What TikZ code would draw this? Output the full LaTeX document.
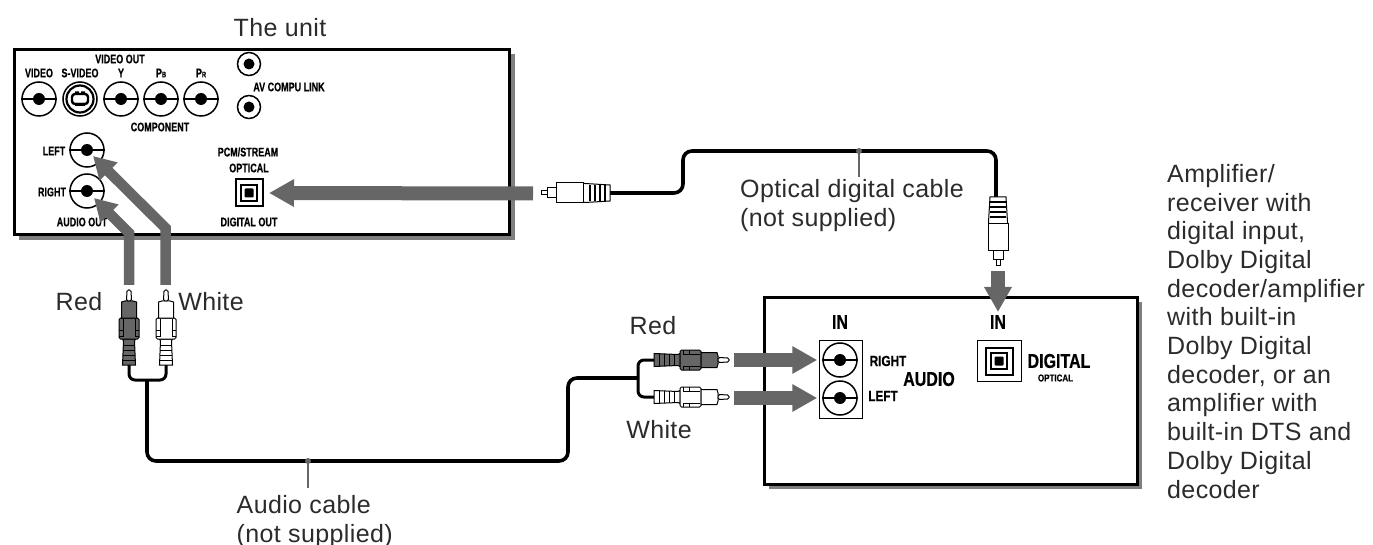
\documentclass[tikz,border=0pt]{standalone}
\usepackage{fontspec}
\setmainfont[LetterSpace=1.5]{Liberation Sans}
\newfontfamily\condf[FakeStretch=0.72,FakeBold=0.5]{Liberation Sans Bold}
\newfontfamily\condw[FakeStretch=0.8,FakeBold=0.5]{Liberation Sans Bold}
\usetikzlibrary{arrows.meta}
\definecolor{ink}{HTML}{2B2B2B}
\definecolor{arrowgrey}{HTML}{666666}
\definecolor{shadowgrey}{HTML}{7F7F7F}
\tikzset{
  panel/.style={draw=black,line width=3pt,fill=white},
  jackc/.style={circle,draw=black,line width=1.5pt,fill=white,inner sep=0pt,minimum size=34pt},
  smalljack/.style={circle,draw=black,line width=1.5pt,fill=white,inner sep=0pt,minimum size=23pt},
  opt/.style={draw=black,line width=2pt,fill=white,inner sep=0pt},
  lab/.style={font=\condf\fontsize{12.5}{14}\selectfont,text=black,inner sep=0pt},
  labm/.style={font=\condw\fontsize{14.7}{16}\selectfont,text=black,inner sep=0pt},
  labs/.style={font=\condw\fontsize{20}{22}\selectfont,text=black,inner sep=0pt},
  labt/.style={font=\condw\fontsize{10}{11}\selectfont,text=black,inner sep=0pt},
  captext/.style={font=\fontsize{25}{28.7}\selectfont,text=ink,align=left,anchor=north west,inner sep=0pt},
  cable/.style={draw=black,line width=3.6pt,rounded corners=9pt},
  tickline/.style={draw=arrowgrey,line width=1.6pt},
  thinline/.style={draw=black,line width=1pt},
  bigarrow/.style={draw=arrowgrey,line width=14pt,line join=miter,-{Triangle[length=25pt,width=26pt]}},
  midarrow/.style={draw=arrowgrey,line width=10.5pt,line join=miter,-{Triangle[length=22pt,width=24pt]}},
}
\newcommand{\mkjack}[3]{\node[jackc] (#1) at (#2,#3) {};
  \draw[line width=1.5pt] (#1.west) -- (#1.east);
  \fill[black] (#1.center) circle (6pt);}
\newcommand{\mksmall}[3]{\node[smalljack] (#1) at (#2,#3) {};
  \fill[black] (#1.center) circle (5.5pt);}
% audio plug, tip towards local +x; #3 angle, #4 fill
\newcommand{\audioplug}[4]{\begin{scope}[shift={(#1,#2)},rotate=#3,thinline,fill=#4]
  \filldraw (0,-6.5) -- (24,-5.5) -- (26,-6.5) -- (26,6.5) -- (24,5.5) -- (0,6.5) -- cycle;
  \foreach \q in {5,10,15,20} \draw (\q,-6) -- (\q,6);
  \filldraw[rounded corners=1.5pt] (26,-10) -- (47,-10) -- (47,10) -- (26,10) -- cycle;
  \draw (29,-10) -- (29,-6) -- (35,-6) -- (35,-10) (29,10) -- (29,6) -- (35,6) -- (35,10) (35,-6)--(46,-6) (35,6)--(46,6);
  \filldraw (47,-7.5) -- (63,-7.5) -- (64,-4) -- (64,4) -- (63,7.5) -- (47,7.5) -- cycle;
  \draw[fill=white,rounded corners=1.5pt] (64,-2.5) -- (75,-2) -- (75,2) -- (64,2.5) -- cycle;
\end{scope}}
% optical plug
\newcommand{\optplug}[3]{\begin{scope}[shift={(#1,#2)},rotate=#3,thinline,fill=white]
  \filldraw (0,-8) -- (25,-9.5) -- (27,-9.5) -- (27,9.5) -- (25,9.5) -- (0,8) -- cycle;
  \foreach \q in {5,10,15,20} \draw[line width=1.2pt] (\q,-8) -- (\q,8);
  \filldraw (27,-10) rectangle (54,10);
  \filldraw (54,-5) rectangle (63,5);
  \filldraw (63,-2) rectangle (69,2);
\end{scope}}
\newcommand{\optport}[3]{\node[opt,minimum size=27pt] (#1) at (#2,#3) {};
  \node[draw=black,line width=1.5pt,fill=white,minimum size=16pt,inner sep=0pt] at (#1) {};
  \fill[black,rounded corners=1pt] ([shift={(-4.5,-4.5)}]#1.center) rectangle ([shift={(4.5,4.5)}]#1.center);}
\begin{document}
\begin{tikzpicture}[x=1pt,y=-1pt]
\useasboundingbox (0,0) rectangle (1373,545);
% ---- unit
\fill[shadowgrey] (19,54) rectangle (515,240);
\node[panel,minimum width=495pt,minimum height=185pt,inner sep=0pt,anchor=north west] (unit) at (13,48) {};
\node[captext,anchor=center] (unitlabel) at (280,28) {The unit};
\node[lab] (vo) at (120,59) {VIDEO OUT};
\node[lab] (lv) at (39,73) {VIDEO};
\node[lab] (ls) at (80,73) {S-VIDEO};
\node[lab] (ly) at (121,73) {Y};
\node[lab] (lb) at (161,73) {P{\fontsize{8}{9}\selectfont B}};
\node[lab] (lr) at (201,73) {P{\fontsize{8}{9}\selectfont R}};
\node[lab] (lav) at (289,87) {AV COMPU LINK};
\node[lab] (lc) at (160,127) {COMPONENT};
\node[lab] (ll) at (54,151) {LEFT};
\node[lab] (lrt) at (52,192) {RIGHT};
\node[lab] (lao) at (82,222) {AUDIO OUT};
\node[lab] (lp) at (248,152) {PCM/STREAM};
\node[lab] (lo) at (249,168) {OPTICAL};
\node[lab] (ldo) at (249,222) {DIGITAL OUT};
\mkjack{jv}{39}{99}
\node[jackc] (js) at (80,99) {};
\draw[line width=2.2pt] (js.center) circle (13.5pt);
\draw[line width=2.4pt,rounded corners=3pt,fill=white] (72,94) rectangle (88,104);
\fill[black] (75,91.5) rectangle (79,95) (81,91.5) rectangle (85,95) (75,103) rectangle (85,106);
\mkjack{jy}{121}{99}
\mkjack{jb}{161}{99}
\mkjack{jr}{201}{99}
\mksmall{ja}{249}{64}
\mksmall{jc}{249}{107}
\mkjack{jl}{87}{150}
\mkjack{jrt}{87}{191}
\optport{po}{249}{193}
% ---- amplifier
\fill[shadowgrey] (769,302) rectangle (1142,489);
\node[panel,minimum width=373pt,minimum height=187pt,inner sep=0pt,anchor=north west] (amp) at (763,296) {};
\node[labs] (in1) at (840,322) {IN};
\node[labs] (in2) at (998,322) {IN};
\node[draw=black,line width=1pt,fill=white,minimum width=43pt,minimum height=78pt,inner sep=0pt] (ab) at (840.5,379) {};
\mkjack{ir}{840}{360}
\mkjack{il}{840}{398}
\node[draw=black,line width=1pt,fill=white,minimum width=44pt,minimum height=41pt,inner sep=0pt] (db) at (999,360.5) {};
\optport{io}{999}{361}
\node[labm] (tr) at (888,361) {RIGHT};
\node[labm] (tl) at (883,396) {LEFT};
\node[labs] (ta) at (929,379) {AUDIO};
\node[labs] (td) at (1059,361) {DIGITAL};
\node[labt] (to) at (1055.5,378) {OPTICAL};
% ---- cables
\coordinate (opA) at (610,193);
\coordinate (opB) at (996,197);
\draw[cable] (opA) -- (683,193) -- (683,151) -- (996,151) -- (opB);
\coordinate (fa) at (129,365);
\coordinate (fb) at (166,365);
\coordinate (fm) at (147,380);
\draw[cable,line width=3pt,rounded corners=6pt] (fa) -- (129,380) -- (166,380) -- (fb);
\coordinate (ga) at (654,360);
\coordinate (gb) at (654,397);
\draw[cable,line width=3pt,rounded corners=6pt] (ga) -- (638,360) -- (638,397) -- (gb);
\coordinate (gm) at (638,378);
\draw[cable] (fm) -- (147,461) -- (568,461) -- (568,378) -- (gm);
% ---- plugs
\audioplug{129}{365}{90}{black!60}
\audioplug{166}{365}{90}{white}
\audioplug{654}{360}{0}{black!60}
\audioplug{654}{397}{0}{white}
\optplug{610}{193}{180}
\optplug{998}{197}{-90}
% ---- arrows
\coordinate (a1) at (129,285); \coordinate (a1b) at (129,233); \coordinate (a1t) at (94,198);
\coordinate (a2) at (165.5,285); \coordinate (a2b) at (165.5,228); \coordinate (a2t) at (93,156);
\draw[midarrow] (a1) -- (a1b) -- (a1t);
\draw[midarrow] (a2) -- (a2b) -- (a2t);
\coordinate (a3) at (533,193.5); \coordinate (a3t) at ([xshift=5.5pt]po.east);
\draw[bigarrow] (a3) -- (a3t);
\coordinate (a4) at (998,271); \coordinate (a4t) at (998,312);
\draw[bigarrow] (a4) -- (a4t);
\coordinate (a5) at (734,360);\coordinate (a6) at (734,398);
\coordinate (a5t) at ([xshift=-5pt]ir.west); \coordinate (a6t) at ([xshift=-5pt]il.west);
\draw[bigarrow] (a5) -- (a5t);
\draw[bigarrow] (a6) -- (a6t);
% ---- captions
\node[captext,anchor=center] (red1) at (79,302) {Red};
\node[captext,anchor=center] (wh1) at (211,302) {White};
\node[captext,anchor=center] (red2) at (653,326) {Red};
\node[captext,anchor=center] (wh2) at (659,430) {White};
\node[captext] (capo) at (740,179) {Optical digital cable\\(not supplied)};
\node[captext] (capa) at (236.5,495) {Audio cable\\(not supplied)};
\coordinate (t1) at (859,151); \coordinate (t2) at (859,177);
\draw[tickline] (t1) -- (t2); \fill[arrowgrey] (t1) circle (3pt);
\coordinate (t3) at (308,461); \coordinate (t4) at (308,488);
\draw[tickline] (t3) -- (t4); \fill[arrowgrey] (t3) circle (3pt);
\node[captext] (capr) at (1167,164) {Amplifier/\\receiver with\\digital input,\\Dolby Digital\\decoder/amplifier\\with built-in\\Dolby Digital\\decoder, or an\\amplifier with\\built-in DTS and\\Dolby Digital\\decoder};
\end{tikzpicture}
\end{document}
